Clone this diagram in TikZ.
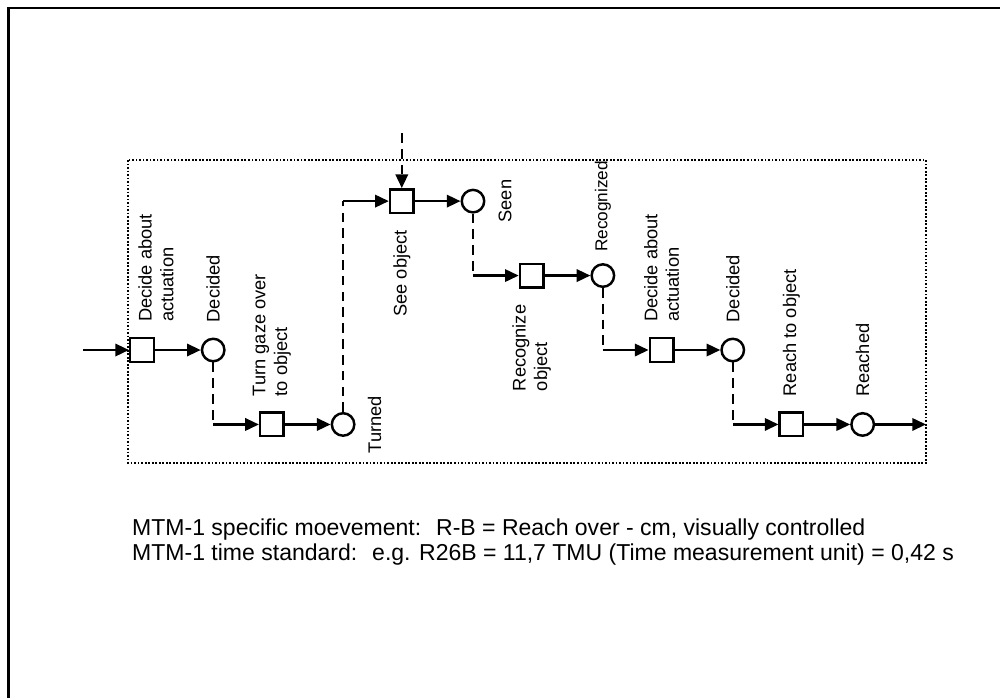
\documentclass[tikz,border=0pt]{standalone}
\usepackage{fontspec}
\setmainfont{Liberation Sans}
\usetikzlibrary{matrix, positioning, arrows.meta}

\tikzset{
  act/.style={draw, rectangle, minimum size=0.47cm, inner sep=0pt},
  ev/.style={draw, circle, minimum size=0.45cm, inner sep=0pt},
  lbl/.style={rotate=90, align=left, inner sep=0pt, font=\fontsize{10.4}{12.3}\selectfont},
  arr/.style={-{Stealth[length=7.8pt, width=7pt, inset=0pt]}},
  flowdash/.style={dash pattern=on 5.5pt off 3.5pt},
}

\begin{document}
\begin{tikzpicture}[x=0.02cm, y=-0.02cm, line width=1.4pt]
        \useasboundingbox (0,0) rectangle (1000,698);
        \draw (8.5,698) -- (8.5,8) -- (1000,8);
        \coordinate (boxnw) at (128,160);
        \coordinate (boxse) at (926,463);
        \draw[densely dotted, line width=1pt] (boxnw) rectangle (boxse);
        \matrix (m) [matrix of nodes, row sep=0.97cm, column sep=0.665cm, matrix anchor=m-3-1.center] at (142,350)
        {
          &[0.25cm] & &[0.25cm] & |[act]| &[0.25cm] |[ev]| & &[0.25cm] & &[0.25cm] & &[0.25cm] \\
          & & & & & & |[act]| & |[ev]| & & & & \\
          |[act]| & |[ev]| & & & & & & & |[act]| & |[ev]| & & \\
          & & |[act]| & |[ev]| & & & & & & & |[act]| & |[ev]| \\
        };
        \coordinate (in) at (83,350);
        \coordinate [above=1.1cm of m-1-5] (seein);
        \coordinate (out) at (m-4-12 -| boxse);
        \path[arr]
        (in) edge (m-3-1)
        (m-3-1) edge (m-3-2)
        (m-3-2 |- m-4-3) edge (m-4-3)
        (m-4-3) edge (m-4-4)
        (m-4-4 |- m-1-5) edge (m-1-5)
        (seein) edge [flowdash] (m-1-5)
        (m-1-5) edge (m-1-6)
        (m-1-6 |- m-2-7) edge (m-2-7)
        (m-2-7) edge (m-2-8)
        (m-2-8 |- m-3-9) edge (m-3-9)
        (m-3-9) edge (m-3-10)
        (m-3-10 |- m-4-11) edge (m-4-11)
        (m-4-11) edge (m-4-12)
        (m-4-12) edge (out);
        \path[flowdash]
        (m-3-2) edge (m-3-2 |- m-4-3)
        (m-4-4) edge (m-4-4 |- m-1-5)
        (m-1-6) edge (m-1-6 |- m-2-7)
        (m-2-8) edge (m-2-8 |- m-3-9)
        (m-3-10) edge (m-3-10 |- m-4-11);
        \node [above=0.28cm of m-3-1, xshift=0.28cm, lbl, anchor=west] {Decide about\\actuation};
        \node [above=0.28cm of m-3-2, lbl, anchor=west] {Decided};
        \node [above=0.28cm of m-4-3, lbl, anchor=west] {Turn gaze over\\to object};
        \node [right=0.22cm of m-4-4, lbl, anchor=north] {Turned};
        \node [below=0.3cm of m-1-5, lbl, anchor=east] {See object};
        \node [right=0.24cm of m-1-6, lbl, anchor=north] {Seen};
        \node [below=0.3cm of m-2-7, lbl, anchor=east] {Recognize\\object};
        \node [above=0.2cm of m-2-8, lbl, anchor=west, font=\fontsize{9.8}{11.6}\selectfont] {Recognized};
        \node [above=0.28cm of m-3-9, lbl, anchor=west] {Decide about\\actuation};
        \node [above=0.28cm of m-3-10, lbl, anchor=west] {Decided};
        \node [above=0.28cm of m-4-11, lbl, anchor=west] {Reach to object};
        \node [above=0.28cm of m-4-12, lbl, anchor=west] {Reached};
        \node (note) [anchor=west, align=left, inner sep=0pt, font=\fontsize{13.1}{14.2}\selectfont] at (131,542)
        {MTM-1 specific moevement:~ R-B = Reach over - cm, visually controlled\\
         MTM-1 time standard:~ e.g. R26B = 11,7 TMU (Time measurement unit) = 0,42 s};
    \end{tikzpicture}
\end{document}
